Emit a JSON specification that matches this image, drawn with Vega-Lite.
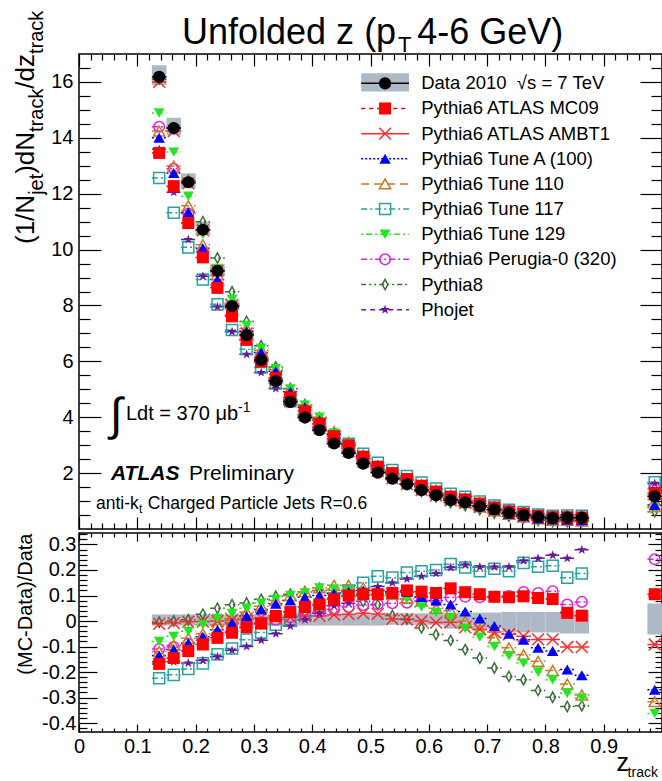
{
"$schema": "https://vega.github.io/schema/vega-lite/v6.json",
"background": "white",
"padding": {"left": 12, "top": 9, "right": 0, "bottom": 0},
"spacing": 0,
"config": {
  "font": "Liberation Sans",
  "view": {"stroke": "#000", "strokeWidth": 1.5},
  "text": {"baseline": "alphabetic", "color": "#000"},
  "axis": {"grid": false, "domain": false, "tickColor": "#000", "tickWidth": 1.2, "labelFont": "Liberation Sans", "labelFontSize": 20, "labelColor": "#000", "labelFlush": false, "labelOverlap": false, "titleFont": "Liberation Sans", "titleFontSize": 20, "titleFontWeight": "normal", "titleColor": "#000"}
},
"datasets": {
"dat": [
{"z":0.1375,"a":0.125,"b":0.15,"d":16.18,"dl":15.89,"dh":16.6,"rl":-0.018,"rh":0.026},
{"z":0.1625,"a":0.15,"b":0.175,"d":14.35,"dl":14.09,"dh":14.72,"rl":-0.018,"rh":0.026},
{"z":0.1875,"a":0.175,"b":0.2,"d":12.41,"dl":12.19,"dh":12.73,"rl":-0.018,"rh":0.026},
{"z":0.2125,"a":0.2,"b":0.225,"d":10.71,"dl":10.52,"dh":10.99,"rl":-0.018,"rh":0.026},
{"z":0.2375,"a":0.225,"b":0.25,"d":9.24,"dl":9.07,"dh":9.48,"rl":-0.018,"rh":0.026},
{"z":0.2625,"a":0.25,"b":0.275,"d":7.98,"dl":7.84,"dh":8.19,"rl":-0.018,"rh":0.026},
{"z":0.2875,"a":0.275,"b":0.3,"d":6.94,"dl":6.82,"dh":7.12,"rl":-0.018,"rh":0.026},
{"z":0.3125,"a":0.3,"b":0.325,"d":6.05,"dl":5.94,"dh":6.21,"rl":-0.018,"rh":0.026},
{"z":0.3375,"a":0.325,"b":0.35,"d":5.29,"dl":5.19,"dh":5.43,"rl":-0.018,"rh":0.026},
{"z":0.3625,"a":0.35,"b":0.375,"d":4.55,"dl":4.47,"dh":4.67,"rl":-0.018,"rh":0.026},
{"z":0.3875,"a":0.375,"b":0.4,"d":3.99,"dl":3.92,"dh":4.09,"rl":-0.018,"rh":0.026},
{"z":0.4125,"a":0.4,"b":0.425,"d":3.54,"dl":3.48,"dh":3.63,"rl":-0.018,"rh":0.026},
{"z":0.4375,"a":0.425,"b":0.45,"d":3.06,"dl":3.0,"dh":3.14,"rl":-0.018,"rh":0.026},
{"z":0.4625,"a":0.45,"b":0.475,"d":2.72,"dl":2.67,"dh":2.79,"rl":-0.018,"rh":0.026},
{"z":0.4875,"a":0.475,"b":0.5,"d":2.34,"dl":2.3,"dh":2.4,"rl":-0.018,"rh":0.026},
{"z":0.5125,"a":0.5,"b":0.525,"d":2.02,"dl":1.98,"dh":2.07,"rl":-0.018,"rh":0.026},
{"z":0.5375,"a":0.525,"b":0.55,"d":1.8,"dl":1.77,"dh":1.85,"rl":-0.015,"rh":0.03},
{"z":0.5625,"a":0.55,"b":0.575,"d":1.6,"dl":1.58,"dh":1.65,"rl":-0.015,"rh":0.03},
{"z":0.5875,"a":0.575,"b":0.6,"d":1.39,"dl":1.37,"dh":1.43,"rl":-0.015,"rh":0.03},
{"z":0.6125,"a":0.6,"b":0.625,"d":1.21,"dl":1.19,"dh":1.25,"rl":-0.015,"rh":0.03},
{"z":0.6375,"a":0.625,"b":0.65,"d":1.03,"dl":1.0,"dh":1.06,"rl":-0.03,"rh":0.033},
{"z":0.6625,"a":0.65,"b":0.675,"d":0.95,"dl":0.92,"dh":0.98,"rl":-0.03,"rh":0.033},
{"z":0.6875,"a":0.675,"b":0.7,"d":0.82,"dl":0.8,"dh":0.85,"rl":-0.03,"rh":0.033},
{"z":0.7125,"a":0.7,"b":0.725,"d":0.7,"dl":0.68,"dh":0.72,"rl":-0.03,"rh":0.033},
{"z":0.7375,"a":0.725,"b":0.75,"d":0.58,"dl":0.55,"dh":0.6,"rl":-0.045,"rh":0.036},
{"z":0.7625,"a":0.75,"b":0.775,"d":0.5,"dl":0.48,"dh":0.52,"rl":-0.045,"rh":0.036},
{"z":0.7875,"a":0.775,"b":0.8,"d":0.43,"dl":0.41,"dh":0.45,"rl":-0.045,"rh":0.036},
{"z":0.8125,"a":0.8,"b":0.825,"d":0.39,"dl":0.37,"dh":0.4,"rl":-0.045,"rh":0.036},
{"z":0.8375,"a":0.825,"b":0.85,"d":0.41,"dl":0.39,"dh":0.43,"rl":-0.049,"rh":0.04},
{"z":0.8625,"a":0.85,"b":0.875,"d":0.4,"dl":0.38,"dh":0.42,"rl":-0.049,"rh":0.04},
{"z":0.9875,"a":0.975,"b":1.0,"d":1.17,"dl":1.11,"dh":1.25,"rl":-0.053,"rh":0.069}
],
"top": [
{"z":0.1375,"a":0.125,"b":0.15,"MC09":13.46,"AMBT1":16.0,"TuneA":14.0,"T110":14.24,"T117":12.56,"T129":14.89,"P0":14.4,"P8":16.1,"PHO":13.59},
{"z":0.1625,"a":0.15,"b":0.175,"MC09":12.27,"AMBT1":14.24,"TuneA":12.74,"T110":12.99,"T117":11.32,"T129":13.49,"P0":12.89,"P8":14.35,"PHO":12.05},
{"z":0.1875,"a":0.175,"b":0.2,"MC09":10.95,"AMBT1":12.37,"TuneA":11.34,"T110":11.57,"T117":10.08,"T129":11.91,"P0":11.29,"P8":12.47,"PHO":10.36},
{"z":0.2125,"a":0.2,"b":0.225,"MC09":9.72,"AMBT1":10.69,"TuneA":10.05,"T110":10.17,"T117":8.93,"T129":10.55,"P0":9.91,"P8":11.0,"PHO":9.05},
{"z":0.2375,"a":0.225,"b":0.25,"MC09":8.63,"AMBT1":9.24,"TuneA":8.93,"T110":9.1,"T117":8.04,"T129":9.33,"P0":8.73,"P8":9.7,"PHO":7.95},
{"z":0.2625,"a":0.25,"b":0.275,"MC09":7.61,"AMBT1":8.01,"TuneA":7.92,"T110":8.06,"T117":7.12,"T129":8.22,"P0":7.66,"P8":8.49,"PHO":7.06},
{"z":0.2875,"a":0.275,"b":0.3,"MC09":6.77,"AMBT1":7.0,"TuneA":7.08,"T110":7.18,"T117":6.43,"T129":7.29,"P0":6.77,"P8":7.43,"PHO":6.25},
{"z":0.3125,"a":0.3,"b":0.325,"MC09":5.99,"AMBT1":6.12,"TuneA":6.32,"T110":6.4,"T117":5.78,"T129":6.47,"P0":5.99,"P8":6.56,"PHO":5.6},
{"z":0.3375,"a":0.325,"b":0.35,"MC09":5.4,"AMBT1":5.35,"TuneA":5.65,"T110":5.71,"T117":5.21,"T129":5.74,"P0":5.32,"P8":5.8,"PHO":5.03},
{"z":0.3625,"a":0.35,"b":0.375,"MC09":4.71,"AMBT1":4.62,"TuneA":4.91,"T110":5.01,"T117":4.57,"T129":5.01,"P0":4.62,"P8":5.03,"PHO":4.46},
{"z":0.3875,"a":0.375,"b":0.4,"MC09":4.21,"AMBT1":4.07,"TuneA":4.36,"T110":4.45,"T117":4.11,"T129":4.43,"P0":4.09,"P8":4.45,"PHO":4.01},
{"z":0.4125,"a":0.4,"b":0.425,"MC09":3.77,"AMBT1":3.61,"TuneA":3.89,"T110":4.0,"T117":3.75,"T129":4.0,"P0":3.66,"P8":3.96,"PHO":3.65},
{"z":0.4375,"a":0.425,"b":0.45,"MC09":3.32,"AMBT1":3.14,"TuneA":3.39,"T110":3.49,"T117":3.34,"T129":3.44,"P0":3.2,"P8":3.4,"PHO":3.24},
{"z":0.4625,"a":0.45,"b":0.475,"MC09":2.99,"AMBT1":2.79,"TuneA":3.03,"T110":3.1,"T117":3.05,"T129":3.05,"P0":2.87,"P8":2.98,"PHO":2.91},
{"z":0.4875,"a":0.475,"b":0.5,"MC09":2.59,"AMBT1":2.41,"TuneA":2.62,"T110":2.64,"T117":2.69,"T129":2.6,"P0":2.49,"P8":2.52,"PHO":2.57},
{"z":0.5125,"a":0.5,"b":0.525,"MC09":2.23,"AMBT1":2.08,"TuneA":2.26,"T110":2.26,"T117":2.37,"T129":2.22,"P0":2.15,"P8":2.15,"PHO":2.29},
{"z":0.5375,"a":0.525,"b":0.55,"MC09":2.0,"AMBT1":1.81,"TuneA":2.01,"T110":1.99,"T117":2.11,"T129":1.98,"P0":1.93,"P8":1.84,"PHO":2.07},
{"z":0.5625,"a":0.55,"b":0.575,"MC09":1.79,"AMBT1":1.61,"TuneA":1.78,"T110":1.74,"T117":1.9,"T129":1.74,"P0":1.72,"P8":1.61,"PHO":1.86},
{"z":0.5875,"a":0.575,"b":0.6,"MC09":1.55,"AMBT1":1.39,"TuneA":1.52,"T110":1.5,"T117":1.66,"T129":1.47,"P0":1.5,"P8":1.35,"PHO":1.63},
{"z":0.6125,"a":0.6,"b":0.625,"MC09":1.34,"AMBT1":1.2,"TuneA":1.31,"T110":1.27,"T117":1.45,"T129":1.25,"P0":1.31,"P8":1.15,"PHO":1.44},
{"z":0.6375,"a":0.625,"b":0.65,"MC09":1.16,"AMBT1":1.02,"TuneA":1.1,"T110":1.07,"T117":1.26,"T129":1.04,"P0":1.12,"P8":0.95,"PHO":1.25},
{"z":0.6625,"a":0.65,"b":0.675,"MC09":1.06,"AMBT1":0.93,"TuneA":0.99,"T110":0.95,"T117":1.15,"T129":0.92,"P0":1.04,"P8":0.84,"PHO":1.16},
{"z":0.6875,"a":0.675,"b":0.7,"MC09":0.91,"AMBT1":0.79,"TuneA":0.83,"T110":0.79,"T117":0.98,"T129":0.77,"P0":0.9,"P8":0.7,"PHO":0.99},
{"z":0.7125,"a":0.7,"b":0.725,"MC09":0.77,"AMBT1":0.67,"TuneA":0.69,"T110":0.65,"T117":0.84,"T129":0.63,"P0":0.77,"P8":0.57,"PHO":0.85},
{"z":0.7375,"a":0.725,"b":0.75,"MC09":0.63,"AMBT1":0.55,"TuneA":0.55,"T110":0.52,"T117":0.69,"T129":0.5,"P0":0.64,"P8":0.45,"PHO":0.7},
{"z":0.7625,"a":0.75,"b":0.775,"MC09":0.55,"AMBT1":0.47,"TuneA":0.46,"T110":0.43,"T117":0.61,"T129":0.42,"P0":0.56,"P8":0.39,"PHO":0.62},
{"z":0.7875,"a":0.775,"b":0.8,"MC09":0.47,"AMBT1":0.4,"TuneA":0.38,"T110":0.36,"T117":0.52,"T129":0.34,"P0":0.48,"P8":0.31,"PHO":0.54},
{"z":0.8125,"a":0.8,"b":0.825,"MC09":0.42,"AMBT1":0.36,"TuneA":0.34,"T110":0.31,"T117":0.47,"T129":0.3,"P0":0.44,"P8":0.27,"PHO":0.49},
{"z":0.8375,"a":0.825,"b":0.85,"MC09":0.42,"AMBT1":0.37,"TuneA":0.33,"T110":0.31,"T117":0.48,"T129":0.29,"P0":0.44,"P8":0.27,"PHO":0.51},
{"z":0.8625,"a":0.85,"b":0.875,"MC09":0.41,"AMBT1":0.36,"TuneA":0.31,"T110":0.28,"T117":0.47,"T129":0.28,"P0":0.43,"P8":0.27,"PHO":0.51},
{"z":0.9875,"a":0.975,"b":1.0,"MC09":1.29,"AMBT1":1.06,"TuneA":0.86,"T110":0.8,"T117":1.67,"T129":0.75,"P0":1.45,"P8":0.62,"PHO":1.63}
],
"rat": [
{"z":0.1375,"a":0.125,"b":0.15,"MC09":-0.168,"AMBT1":-0.011,"TuneA":-0.135,"T110":-0.12,"T117":-0.224,"T129":-0.08,"P0":-0.11,"P8":-0.005,"PHO":-0.16},
{"z":0.1625,"a":0.15,"b":0.175,"MC09":-0.145,"AMBT1":-0.008,"TuneA":-0.112,"T110":-0.095,"T117":-0.211,"T129":-0.06,"P0":-0.102,"P8":0.0,"PHO":-0.16},
{"z":0.1875,"a":0.175,"b":0.2,"MC09":-0.118,"AMBT1":-0.003,"TuneA":-0.086,"T110":-0.068,"T117":-0.188,"T129":-0.04,"P0":-0.09,"P8":0.005,"PHO":-0.165},
{"z":0.2125,"a":0.2,"b":0.225,"MC09":-0.092,"AMBT1":-0.002,"TuneA":-0.062,"T110":-0.05,"T117":-0.166,"T129":-0.015,"P0":-0.075,"P8":0.027,"PHO":-0.155},
{"z":0.2375,"a":0.225,"b":0.25,"MC09":-0.066,"AMBT1":0.0,"TuneA":-0.034,"T110":-0.015,"T117":-0.13,"T129":0.01,"P0":-0.055,"P8":0.05,"PHO":-0.14},
{"z":0.2625,"a":0.25,"b":0.275,"MC09":-0.046,"AMBT1":0.004,"TuneA":-0.008,"T110":0.01,"T117":-0.108,"T129":0.03,"P0":-0.04,"P8":0.064,"PHO":-0.115},
{"z":0.2875,"a":0.275,"b":0.3,"MC09":-0.024,"AMBT1":0.008,"TuneA":0.02,"T110":0.035,"T117":-0.073,"T129":0.05,"P0":-0.025,"P8":0.071,"PHO":-0.1},
{"z":0.3125,"a":0.3,"b":0.325,"MC09":-0.01,"AMBT1":0.012,"TuneA":0.045,"T110":0.058,"T117":-0.045,"T129":0.07,"P0":-0.01,"P8":0.085,"PHO":-0.075},
{"z":0.3375,"a":0.325,"b":0.35,"MC09":0.02,"AMBT1":0.012,"TuneA":0.068,"T110":0.08,"T117":-0.015,"T129":0.085,"P0":0.005,"P8":0.097,"PHO":-0.05},
{"z":0.3625,"a":0.35,"b":0.375,"MC09":0.035,"AMBT1":0.015,"TuneA":0.08,"T110":0.1,"T117":0.005,"T129":0.1,"P0":0.015,"P8":0.105,"PHO":-0.02},
{"z":0.3875,"a":0.375,"b":0.4,"MC09":0.055,"AMBT1":0.02,"TuneA":0.093,"T110":0.115,"T117":0.03,"T129":0.11,"P0":0.025,"P8":0.115,"PHO":0.005},
{"z":0.4125,"a":0.4,"b":0.425,"MC09":0.065,"AMBT1":0.02,"TuneA":0.1,"T110":0.13,"T117":0.06,"T129":0.13,"P0":0.035,"P8":0.12,"PHO":0.03},
{"z":0.4375,"a":0.425,"b":0.45,"MC09":0.085,"AMBT1":0.025,"TuneA":0.108,"T110":0.14,"T117":0.09,"T129":0.125,"P0":0.045,"P8":0.11,"PHO":0.06},
{"z":0.4625,"a":0.45,"b":0.475,"MC09":0.1,"AMBT1":0.027,"TuneA":0.115,"T110":0.14,"T117":0.12,"T129":0.12,"P0":0.055,"P8":0.097,"PHO":0.07},
{"z":0.4875,"a":0.475,"b":0.5,"MC09":0.105,"AMBT1":0.03,"TuneA":0.12,"T110":0.13,"T117":0.15,"T129":0.11,"P0":0.063,"P8":0.077,"PHO":0.1},
{"z":0.5125,"a":0.5,"b":0.525,"MC09":0.105,"AMBT1":0.028,"TuneA":0.12,"T110":0.12,"T117":0.175,"T129":0.1,"P0":0.066,"P8":0.064,"PHO":0.135},
{"z":0.5375,"a":0.525,"b":0.55,"MC09":0.11,"AMBT1":0.008,"TuneA":0.115,"T110":0.105,"T117":0.17,"T129":0.098,"P0":0.07,"P8":0.022,"PHO":0.15},
{"z":0.5625,"a":0.55,"b":0.575,"MC09":0.12,"AMBT1":0.006,"TuneA":0.114,"T110":0.088,"T117":0.19,"T129":0.085,"P0":0.072,"P8":0.008,"PHO":0.165},
{"z":0.5875,"a":0.575,"b":0.6,"MC09":0.115,"AMBT1":0.0,"TuneA":0.094,"T110":0.078,"T117":0.195,"T129":0.055,"P0":0.078,"P8":-0.027,"PHO":0.175},
{"z":0.6125,"a":0.6,"b":0.625,"MC09":0.11,"AMBT1":-0.006,"TuneA":0.08,"T110":0.05,"T117":0.2,"T129":0.033,"P0":0.08,"P8":-0.053,"PHO":0.187},
{"z":0.6375,"a":0.625,"b":0.65,"MC09":0.128,"AMBT1":-0.005,"TuneA":0.065,"T110":0.04,"T117":0.223,"T129":0.013,"P0":0.092,"P8":-0.076,"PHO":0.21},
{"z":0.6625,"a":0.65,"b":0.675,"MC09":0.113,"AMBT1":-0.025,"TuneA":0.037,"T110":0.0,"T117":0.21,"T129":-0.03,"P0":0.095,"P8":-0.112,"PHO":0.22},
{"z":0.6875,"a":0.675,"b":0.7,"MC09":0.105,"AMBT1":-0.033,"TuneA":0.01,"T110":-0.033,"T117":0.195,"T129":-0.063,"P0":0.093,"P8":-0.145,"PHO":0.212},
{"z":0.7125,"a":0.7,"b":0.725,"MC09":0.095,"AMBT1":-0.043,"TuneA":-0.02,"T110":-0.066,"T117":0.205,"T129":-0.1,"P0":0.095,"P8":-0.184,"PHO":0.212},
{"z":0.7375,"a":0.725,"b":0.75,"MC09":0.093,"AMBT1":-0.052,"TuneA":-0.05,"T110":-0.105,"T117":0.195,"T129":-0.136,"P0":0.098,"P8":-0.217,"PHO":0.212},
{"z":0.7625,"a":0.75,"b":0.775,"MC09":0.097,"AMBT1":-0.06,"TuneA":-0.073,"T110":-0.132,"T117":0.228,"T129":-0.165,"P0":0.114,"P8":-0.23,"PHO":0.236},
{"z":0.7875,"a":0.775,"b":0.8,"MC09":0.09,"AMBT1":-0.072,"TuneA":-0.105,"T110":-0.158,"T117":0.213,"T129":-0.2,"P0":0.11,"P8":-0.272,"PHO":0.246},
{"z":0.8125,"a":0.8,"b":0.825,"MC09":0.086,"AMBT1":-0.072,"TuneA":-0.118,"T110":-0.194,"T117":0.217,"T129":-0.23,"P0":0.117,"P8":-0.299,"PHO":0.258},
{"z":0.8375,"a":0.825,"b":0.85,"MC09":0.032,"AMBT1":-0.102,"TuneA":-0.19,"T110":-0.247,"T117":0.17,"T129":-0.283,"P0":0.065,"P8":-0.335,"PHO":0.246},
{"z":0.8625,"a":0.85,"b":0.875,"MC09":0.021,"AMBT1":-0.102,"TuneA":-0.213,"T110":-0.29,"T117":0.186,"T129":-0.302,"P0":0.075,"P8":-0.332,"PHO":0.279},
{"z":0.9875,"a":0.975,"b":1.0,"MC09":0.105,"AMBT1":-0.092,"TuneA":-0.269,"T110":-0.316,"T117":0.43,"T129":-0.362,"P0":0.242,"P8":-0.47,"PHO":0.39}
],
"leg": [
{"s":"Data","l":"Data 2010 \u00a0√s = 7 TeV","ly":15.95},
{"s":"MC09","l":"Pythia6 ATLAS MC09","ly":15.05},
{"s":"AMBT1","l":"Pythia6 ATLAS AMBT1","ly":14.15},
{"s":"TuneA","l":"Pythia6 Tune A (100)","ly":13.25},
{"s":"T110","l":"Pythia6 Tune 110","ly":12.35},
{"s":"T117","l":"Pythia6 Tune 117","ly":11.45},
{"s":"T129","l":"Pythia6 Tune 129","ly":10.55},
{"s":"P0","l":"Pythia6 Perugia-0 (320)","ly":9.65},
{"s":"P8","l":"Pythia8","ly":8.75},
{"s":"PHO","l":"Phojet","ly":7.85}
]
},
"vconcat": [
{
"width": 583, "height": 475,
"resolve": {"axis": {"x": "independent", "y": "independent"}},
"layer": [
{"data": {"name": "dat"}, "mark": {"type": "rect", "color": "#adbac5"},
 "encoding": {
  "x": {"field": "a", "type": "quantitative", "scale": {"domain": [0, 1], "nice": false, "zero": false}, "axis": {"orient": "bottom", "values": [0,0.1,0.2,0.3,0.4,0.5,0.6,0.7,0.8,0.9,1], "labels": false, "tickSize": -12, "title": null}},
  "x2": {"field": "b"},
  "y": {"field": "dl", "type": "quantitative", "scale": {"domain": [0, 17], "nice": false, "zero": false}, "axis": {"orient": "left", "values": [2,4,6,8,10,12,14,16], "tickSize": -22, "labelPadding": 28, "title": null}},
  "y2": {"field": "dh"}}},
{"data": {"name": "top"}, "transform": [{"fold": ["PHO","P8","P0","T129","T117","T110","TuneA","AMBT1","MC09"], "as": ["s", "v"]}],
 "mark": {"type": "rule", "strokeWidth": 1.5},
 "encoding": {
  "x": {"field": "a", "type": "quantitative", "axis": {"orient": "bottom", "values": [0.02,0.04,0.06,0.08,0.12,0.14,0.16,0.18,0.22,0.24,0.26,0.28,0.32,0.34,0.36,0.38,0.42,0.44,0.46,0.48,0.52,0.54,0.56,0.58,0.62,0.64,0.66,0.68,0.72,0.74,0.76,0.78,0.82,0.84,0.86,0.88,0.92,0.94,0.96,0.98], "labels": false, "tickSize": -6, "title": null}},
  "x2": {"field": "b"},
  "y": {"field": "v", "type": "quantitative", "axis": {"orient": "left", "values": [0.5,1,1.5,2.5,3,3.5,4.5,5,5.5,6.5,7,7.5,8.5,9,9.5,10.5,11,11.5,12.5,13,13.5,14.5,15,15.5,16.5], "labels": false, "tickSize": -11, "title": null}},
  "color": {"field": "s", "type": "nominal", "legend": null, "scale": {"domain": ["Data","MC09","AMBT1","TuneA","T110","T117","T129","P0","P8","PHO"], "range": ["#000000","#ff0000","#ff2a2a","#0000ff","#cc7722","#27a1a1","#22e622","#e020e0","#3d6e3d","#66189e"]}},
  "strokeDash": {"field": "s", "type": "nominal", "legend": null, "scale": {"domain": ["Data","MC09","AMBT1","TuneA","T110","T117","T129","P0","P8","PHO"], "range": [[1,0],[4,4],[1,0],[2,2],[8,5],[6,3,2,3],[2,3,6,3],[6,3,2,3],[5,3,2,3,2,3],[5,4]]}}}},
{"data": {"name": "top"}, "transform": [{"fold": ["PHO","P8","P0","T129","T117","T110","TuneA","AMBT1","MC09"], "as": ["s", "v"]}, {"filter": {"field": "s", "oneOf": ["AMBT1","T110","T117","P0","P8"]}}],
 "mark": {"type": "point", "filled": false, "strokeWidth": 1.5, "opacity": 1},
 "encoding": {
  "x": {"field": "z", "type": "quantitative", "axis": {"orient": "top", "values": [0,0.1,0.2,0.3,0.4,0.5,0.6,0.7,0.8,0.9,1], "labels": false, "tickSize": -12, "title": null}},
  "y": {"field": "v", "type": "quantitative", "axis": {"orient": "right", "values": [2,4,6,8,10,12,14,16], "labels": false, "tickSize": -22, "title": null}},
  "color": {"field": "s", "type": "nominal", "legend": null},
  "shape": {"field": "s", "type": "nominal", "legend": null, "scale": {"domain": ["Data","MC09","AMBT1","TuneA","T110","T117","T129","P0","P8","PHO"], "range": ["circle","square","M-1,-1L1,1M-1,1L1,-1","triangle-up","triangle-up","square","triangle-down","circle","M0,-1L0.55,0L0,1L-0.55,0Z","M0,-1L0.235,-0.324L0.951,-0.309L0.38,0.124L0.588,0.809L0,0.4L-0.588,0.809L-0.38,0.124L-0.951,-0.309L-0.235,-0.324Z"]}},
  "size": {"field": "s", "type": "nominal", "legend": null, "scale": {"domain": ["Data","MC09","AMBT1","TuneA","T110","T117","T129","P0","P8","PHO"], "range": [150,100,130,120,130,120,120,120,160,170]}}}},
{"data": {"name": "top"}, "transform": [{"fold": ["PHO","P8","P0","T129","T117","T110","TuneA","AMBT1","MC09"], "as": ["s", "v"]}, {"filter": {"field": "s", "oneOf": ["PHO","T129","TuneA","MC09"]}}],
 "mark": {"type": "point", "filled": true, "opacity": 1},
 "encoding": {
  "x": {"field": "z", "type": "quantitative", "axis": {"orient": "top", "values": [0.02,0.04,0.06,0.08,0.12,0.14,0.16,0.18,0.22,0.24,0.26,0.28,0.32,0.34,0.36,0.38,0.42,0.44,0.46,0.48,0.52,0.54,0.56,0.58,0.62,0.64,0.66,0.68,0.72,0.74,0.76,0.78,0.82,0.84,0.86,0.88,0.92,0.94,0.96,0.98], "labels": false, "tickSize": -6, "title": null}},
  "y": {"field": "v", "type": "quantitative", "axis": {"orient": "right", "values": [0.5,1,1.5,2.5,3,3.5,4.5,5,5.5,6.5,7,7.5,8.5,9,9.5,10.5,11,11.5,12.5,13,13.5,14.5,15,15.5,16.5], "labels": false, "tickSize": -11, "title": null}},
  "color": {"field": "s", "type": "nominal", "legend": null},
  "shape": {"field": "s", "type": "nominal", "legend": null},
  "size": {"field": "s", "type": "nominal", "legend": null}}},
{"data": {"name": "dat"}, "mark": {"type": "rule", "color": "#000", "strokeWidth": 1.5},
 "encoding": {"x": {"field": "a", "type": "quantitative", "axis": null}, "x2": {"field": "b"}, "y": {"field": "d", "type": "quantitative", "axis": null}}},
{"data": {"name": "dat"}, "mark": {"type": "point", "filled": true, "shape": "circle", "size": 150, "color": "#000", "opacity": 1},
 "encoding": {"x": {"field": "z", "type": "quantitative", "axis": null}, "y": {"field": "d", "type": "quantitative", "axis": null}}},
{"data": {"values": [{"x1": 0.484, "x2": 0.566, "y1": 16.31, "y2": 15.66}]}, "mark": {"type": "rect", "color": "#adbac5"},
 "encoding": {"x": {"field": "x1", "type": "quantitative", "axis": null}, "x2": {"field": "x2"}, "y": {"field": "y1", "type": "quantitative", "axis": null}, "y2": {"field": "y2"}}},
{"data": {"name": "leg"}, "mark": {"type": "rule", "strokeWidth": 1.5},
 "encoding": {"x": {"datum": 0.484, "type": "quantitative", "axis": null}, "x2": {"datum": 0.566}, "y": {"field": "ly", "type": "quantitative", "axis": null},
  "color": {"field": "s", "type": "nominal", "legend": null}, "strokeDash": {"field": "s", "type": "nominal", "legend": null}}},
{"data": {"name": "leg"}, "transform": [{"filter": {"field": "s", "oneOf": ["AMBT1","T110","T117","P0","P8"]}}], "mark": {"type": "point", "filled": false, "strokeWidth": 1.5, "opacity": 1},
 "encoding": {"x": {"datum": 0.525, "type": "quantitative", "axis": null}, "y": {"field": "ly", "type": "quantitative", "axis": null},
  "color": {"field": "s", "type": "nominal", "legend": null}, "shape": {"field": "s", "type": "nominal", "legend": null}, "size": {"field": "s", "type": "nominal", "legend": null}}},
{"data": {"name": "leg"}, "transform": [{"filter": {"field": "s", "oneOf": ["Data","MC09","TuneA","T129","PHO"]}}], "mark": {"type": "point", "filled": true, "opacity": 1},
 "encoding": {"x": {"datum": 0.525, "type": "quantitative", "axis": null}, "y": {"field": "ly", "type": "quantitative", "axis": null},
  "color": {"field": "s", "type": "nominal", "legend": null}, "shape": {"field": "s", "type": "nominal", "legend": null}, "size": {"field": "s", "type": "nominal", "legend": null}}},
{"data": {"name": "leg"}, "mark": {"type": "text", "fontSize": 18.5, "align": "left", "baseline": "middle", "color": "#000"},
 "encoding": {"x": {"datum": 0.587, "type": "quantitative", "axis": null}, "y": {"field": "ly", "type": "quantitative", "axis": null}, "text": {"field": "l"}}},
{"data": {"values": [{"t": "Unfolded z (p", "x": 0.1767, "y": 17.36}, {"t": "4-6 GeV)", "x": 0.58, "y": 17.36}]}, "mark": {"type": "text", "fontSize": 36, "align": "left", "baseline": "alphabetic", "color": "#000"},
 "encoding": {"x": {"field": "x", "type": "quantitative", "axis": null}, "y": {"field": "y", "type": "quantitative", "axis": null}, "text": {"field": "t"}}},
{"data": {"values": [{"t": "T", "x": 0.5472, "y": 17.07}]}, "mark": {"type": "text", "fontSize": 22, "align": "left", "baseline": "alphabetic", "color": "#000"},
 "encoding": {"x": {"field": "x", "type": "quantitative", "axis": null}, "y": {"field": "y", "type": "quantitative", "axis": null}, "text": {"field": "t"}}},
{"data": {"values": [{"t": "(1/N", "x": -0.0772, "y": 10.2}, {"t": ")dN", "x": -0.0772, "y": 12.71}, {"t": "/dz", "x": -0.0772, "y": 15.76}]}, "mark": {"type": "text", "fontSize": 26, "align": "left", "baseline": "alphabetic", "angle": 270, "color": "#000"},
 "encoding": {"x": {"field": "x", "type": "quantitative", "axis": null}, "y": {"field": "y", "type": "quantitative", "axis": null}, "text": {"field": "t"}}},
{"data": {"values": [{"t": "jet", "x": -0.0617, "y": 11.96}, {"t": "track", "x": -0.0617, "y": 14.21}, {"t": "track", "x": -0.0617, "y": 17.0}]}, "mark": {"type": "text", "fontSize": 20, "align": "left", "baseline": "alphabetic", "angle": 270, "color": "#000"},
 "encoding": {"x": {"field": "x", "type": "quantitative", "axis": null}, "y": {"field": "y", "type": "quantitative", "axis": null}, "text": {"field": "t"}}},
{"data": {"values": [{"t": "∫", "x": 0.053, "y": 3.55}]}, "mark": {"type": "text", "fontSize": 46, "align": "left", "baseline": "alphabetic", "color": "#000"},
 "encoding": {"x": {"field": "x", "type": "quantitative", "axis": null}, "y": {"field": "y", "type": "quantitative", "axis": null}, "text": {"field": "t"}}},
{"data": {"values": [{"t": "Ldt = 370 μb", "x": 0.0806, "y": 3.91}]}, "mark": {"type": "text", "fontSize": 20, "align": "left", "baseline": "alphabetic", "color": "#000"},
 "encoding": {"x": {"field": "x", "type": "quantitative", "axis": null}, "y": {"field": "y", "type": "quantitative", "axis": null}, "text": {"field": "t"}}},
{"data": {"values": [{"t": "-1", "x": 0.2727, "y": 4.19}]}, "mark": {"type": "text", "fontSize": 14, "align": "left", "baseline": "alphabetic", "color": "#000"},
 "encoding": {"x": {"field": "x", "type": "quantitative", "axis": null}, "y": {"field": "y", "type": "quantitative", "axis": null}, "text": {"field": "t"}}},
{"data": {"values": [{"t": "ATLAS", "x": 0.0549, "y": 1.756}]}, "mark": {"type": "text", "fontSize": 21, "fontWeight": "bold", "fontStyle": "italic", "align": "left", "baseline": "alphabetic", "color": "#000"},
 "encoding": {"x": {"field": "x", "type": "quantitative", "axis": null}, "y": {"field": "y", "type": "quantitative", "axis": null}, "text": {"field": "t"}}},
{"data": {"values": [{"t": "Preliminary", "x": 0.1887, "y": 1.756}]}, "mark": {"type": "text", "fontSize": 21, "align": "left", "baseline": "alphabetic", "color": "#000"},
 "encoding": {"x": {"field": "x", "type": "quantitative", "axis": null}, "y": {"field": "y", "type": "quantitative", "axis": null}, "text": {"field": "t"}}},
{"data": {"values": [{"t": "anti-k", "x": 0.0292, "y": 0.717}, {"t": "Charged Particle Jets R=0.6", "x": 0.118, "y": 0.717}]}, "mark": {"type": "text", "fontSize": 17.5, "align": "left", "baseline": "alphabetic", "color": "#000"},
 "encoding": {"x": {"field": "x", "type": "quantitative", "axis": null}, "y": {"field": "y", "type": "quantitative", "axis": null}, "text": {"field": "t"}}},
{"data": {"values": [{"t": "t", "x": 0.1029, "y": 0.573}]}, "mark": {"type": "text", "fontSize": 12, "align": "left", "baseline": "alphabetic", "color": "#000"},
 "encoding": {"x": {"field": "x", "type": "quantitative", "axis": null}, "y": {"field": "y", "type": "quantitative", "axis": null}, "text": {"field": "t"}}}
]
},
{
"width": 583, "height": 199,
"resolve": {"axis": {"x": "independent", "y": "independent"}},
"layer": [
{"data": {"name": "dat"}, "mark": {"type": "rect", "color": "#adbac5", "clip": true},
 "encoding": {
  "x": {"field": "a", "type": "quantitative", "scale": {"domain": [0, 1], "nice": false, "zero": false}, "axis": {"orient": "bottom", "values": [0,0.1,0.2,0.3,0.4,0.5,0.6,0.7,0.8,0.9,1], "labelExpr": "datum.value == 1 ? '' : (datum.value == 0 ? '0' : datum.label)", "tickSize": -8, "labelPadding": 12, "title": null}},
  "x2": {"field": "b"},
  "y": {"field": "rl", "type": "quantitative", "scale": {"domain": [-0.435, 0.345], "nice": false, "zero": false}, "axis": {"orient": "left", "values": [-0.4,-0.3,-0.2,-0.1,0,0.1,0.2,0.3], "labelExpr": "datum.value == 0 ? '0' : replace(datum.label, '−', '-')", "tickSize": -18, "labelPadding": 21, "title": "(MC-Data)/Data", "titleAnchor": "end", "titlePadding": 6}},
  "y2": {"field": "rh"}}},
{"data": {"name": "rat"}, "transform": [{"fold": ["PHO","P8","P0","T129","T117","T110","TuneA","AMBT1","MC09"], "as": ["s", "v"]}],
 "mark": {"type": "rule", "strokeWidth": 1.5, "clip": true},
 "encoding": {
  "x": {"field": "a", "type": "quantitative", "axis": {"orient": "bottom", "values": [0.02,0.04,0.06,0.08,0.12,0.14,0.16,0.18,0.22,0.24,0.26,0.28,0.32,0.34,0.36,0.38,0.42,0.44,0.46,0.48,0.52,0.54,0.56,0.58,0.62,0.64,0.66,0.68,0.72,0.74,0.76,0.78,0.82,0.84,0.86,0.88,0.92,0.94,0.96,0.98], "labels": false, "tickSize": -4, "title": null}},
  "x2": {"field": "b"},
  "y": {"field": "v", "type": "quantitative", "axis": {"orient": "left", "values": [-0.42,-0.38,-0.36,-0.34,-0.32,-0.28,-0.26,-0.24,-0.22,-0.18,-0.16,-0.14,-0.12,-0.08,-0.06,-0.04,-0.02,0.02,0.04,0.06,0.08,0.12,0.14,0.16,0.18,0.22,0.24,0.26,0.28,0.32,0.34], "labels": false, "tickSize": -8, "title": null}},
  "color": {"field": "s", "type": "nominal", "legend": null},
  "strokeDash": {"field": "s", "type": "nominal", "legend": null}}},
{"data": {"name": "rat"}, "transform": [{"fold": ["PHO","P8","P0","T129","T117","T110","TuneA","AMBT1","MC09"], "as": ["s", "v"]}, {"filter": {"field": "s", "oneOf": ["AMBT1","T110","T117","P0","P8"]}}],
 "mark": {"type": "point", "filled": false, "strokeWidth": 1.5, "opacity": 1, "clip": true},
 "encoding": {
  "x": {"field": "z", "type": "quantitative", "axis": {"orient": "top", "values": [0,0.1,0.2,0.3,0.4,0.5,0.6,0.7,0.8,0.9,1], "labels": false, "tickSize": -8, "title": null}},
  "y": {"field": "v", "type": "quantitative", "axis": {"orient": "right", "values": [-0.4,-0.3,-0.2,-0.1,0,0.1,0.2,0.3], "labels": false, "tickSize": -14, "title": null}},
  "color": {"field": "s", "type": "nominal", "legend": null},
  "shape": {"field": "s", "type": "nominal", "legend": null},
  "size": {"field": "s", "type": "nominal", "legend": null}}},
{"data": {"name": "rat"}, "transform": [{"fold": ["PHO","P8","P0","T129","T117","T110","TuneA","AMBT1","MC09"], "as": ["s", "v"]}, {"filter": {"field": "s", "oneOf": ["PHO","T129","TuneA","MC09"]}}],
 "mark": {"type": "point", "filled": true, "opacity": 1, "clip": true},
 "encoding": {
  "x": {"field": "z", "type": "quantitative", "axis": {"orient": "top", "values": [0.02,0.04,0.06,0.08,0.12,0.14,0.16,0.18,0.22,0.24,0.26,0.28,0.32,0.34,0.36,0.38,0.42,0.44,0.46,0.48,0.52,0.54,0.56,0.58,0.62,0.64,0.66,0.68,0.72,0.74,0.76,0.78,0.82,0.84,0.86,0.88,0.92,0.94,0.96,0.98], "labels": false, "tickSize": -4, "title": null}},
  "y": {"field": "v", "type": "quantitative", "axis": {"orient": "right", "values": [-0.42,-0.38,-0.36,-0.34,-0.32,-0.28,-0.26,-0.24,-0.22,-0.18,-0.16,-0.14,-0.12,-0.08,-0.06,-0.04,-0.02,0.02,0.04,0.06,0.08,0.12,0.14,0.16,0.18,0.22,0.24,0.26,0.28,0.32,0.34], "labels": false, "tickSize": -7, "title": null}},
  "color": {"field": "s", "type": "nominal", "legend": null},
  "shape": {"field": "s", "type": "nominal", "legend": null},
  "size": {"field": "s", "type": "nominal", "legend": null}}},
{"data": {"values": [{"t": "z", "x": 0.922, "y": -0.588}]}, "mark": {"type": "text", "fontSize": 25, "align": "left", "baseline": "alphabetic", "color": "#000"},
 "encoding": {"x": {"field": "x", "type": "quantitative", "axis": null}, "y": {"field": "y", "type": "quantitative", "axis": null}, "text": {"field": "t"}}},
{"data": {"values": [{"t": "track", "x": 0.941, "y": -0.611}]}, "mark": {"type": "text", "fontSize": 14, "align": "left", "baseline": "alphabetic", "color": "#000"},
 "encoding": {"x": {"field": "x", "type": "quantitative", "axis": null}, "y": {"field": "y", "type": "quantitative", "axis": null}, "text": {"field": "t"}}}
]
}
]
}
